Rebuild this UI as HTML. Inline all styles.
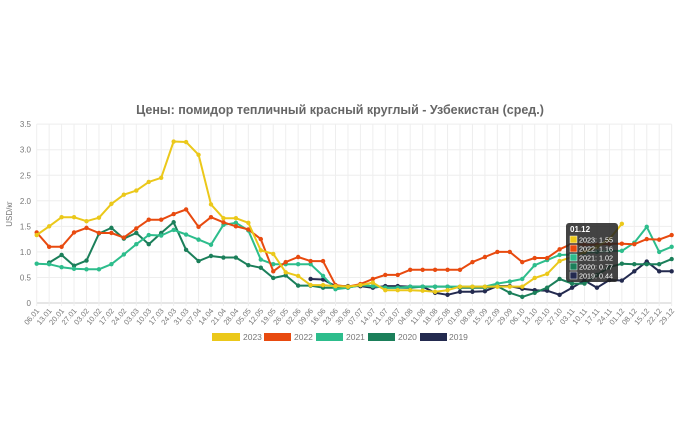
<!DOCTYPE html>
<html><head><meta charset="utf-8"><style>
html,body{margin:0;padding:0;background:#fff;width:680px;height:425px;overflow:hidden;font-family:"Liberation Sans",sans-serif}
</style></head><body>
<svg id="s" width="680" height="425" xmlns="http://www.w3.org/2000/svg" font-family="Liberation Sans, sans-serif">
<text x="340" y="114" text-anchor="middle" font-size="12.5" font-weight="bold" fill="#666">Цены: помидор тепличный красный круглый - Узбекистан (сред.)</text>
<text transform="translate(12,214) rotate(-90)" text-anchor="middle" font-size="8" fill="#777">USD/кг</text>
<g id="grid"></g><g id="series"></g>
<g font-size="8.5" fill="#777">
<rect x="212" y="333" width="28" height="8" fill="#ebc81a"/><text x="243" y="340">2023</text>
<rect x="264" y="333" width="27" height="8" fill="#e84a0f"/><text x="294" y="340">2022</text>
<rect x="316" y="333" width="27" height="8" fill="#2dbd8c"/><text x="346" y="340">2021</text>
<rect x="368" y="333" width="27" height="8" fill="#1b7f5a"/><text x="398" y="340">2020</text>
<rect x="420" y="333" width="27" height="8" fill="#232a4f"/><text x="449" y="340">2019</text>
</g>
<g id="tt">
<rect x="566" y="223" width="52" height="59" rx="3" fill="#222" fill-opacity="0.85"/>
<text x="570" y="232" font-size="8" font-weight="bold" fill="#fff">01.12</text>
<g font-size="7.2" fill="#fff">
<rect x="570" y="236" width="7" height="7" fill="#ebc81a" stroke="#fff" stroke-width="0.5"/><text x="579" y="242.5">2023: 1.55</text>
<rect x="570" y="245" width="7" height="7" fill="#e84a0f" stroke="#fff" stroke-width="0.5"/><text x="579" y="251.5">2022: 1.16</text>
<rect x="570" y="254" width="7" height="7" fill="#2dbd8c" stroke="#fff" stroke-width="0.5"/><text x="579" y="260.5">2021: 1.02</text>
<rect x="570" y="263" width="7" height="7" fill="#1b7f5a" stroke="#fff" stroke-width="0.5"/><text x="579" y="269.5">2020: 0.77</text>
<rect x="570" y="272" width="7" height="7" fill="#232a4f" stroke="#fff" stroke-width="0.5"/><text x="579" y="278.5">2019: 0.44</text>
</g></g>
</svg>
<script>
var NS="http://www.w3.org/2000/svg";
function el(t,a,p){var e=document.createElementNS(NS,t);for(var k in a)e.setAttribute(k,a[k]);p.appendChild(e);return e;}
var X0=36.7,DX=12.45,Y0=303,K=51.1;
function X(i){return X0+DX*i} function Y(v){return Y0-K*v}
var g=document.getElementById('grid'),sg=document.getElementById('series');
var dates="06.01 13.01 20.01 27.01 03.02 10.02 17.02 24.02 03.03 10.03 17.03 24.03 31.03 07.04 14.04 21.04 28.04 05.05 12.05 19.05 26.05 02.06 09.06 16.06 23.06 30.06 07.07 14.07 21.07 28.07 04.08 11.08 18.08 25.08 01.09 08.09 15.09 22.09 29.09 06.10 13.10 20.10 27.10 03.11 10.11 17.11 24.11 01.12 08.12 15.12 22.12 29.12".split(" ");
for(var v=0;v<=3.5001;v+=0.5){el('line',{x1:X0,x2:X(51),y1:Y(v),y2:Y(v),stroke:v==0?'#ccc':'#eee','stroke-width':1},g);
var t=el('text',{x:31,y:Y(v)+3,'text-anchor':'end','font-size':8,fill:'#777'},g);t.textContent=v==0?'0':v.toFixed(1);}
dates.forEach(function(d,i){el('line',{x1:X(i),x2:X(i),y1:Y(3.5),y2:Y0+3,stroke:'#eee'},g);
var t=el('text',{x:X(i)+3,y:Y0+8,'text-anchor':'end','font-size':7.5,fill:'#777',transform:'rotate(-50 '+(X(i)+3)+' '+(Y0+8)+')'},g);t.textContent=d;});
var N=null;
var S=[
["#232a4f",[N,N,N,N,N,N,N,N,N,N,N,N,N,N,N,N,N,N,N,N,N,N,0.47,0.46,0.33,0.33,0.33,0.3,0.33,0.33,0.32,0.32,0.2,0.16,0.22,0.22,0.23,0.33,0.33,0.28,0.25,0.24,0.16,0.3,0.44,0.3,0.45,0.44,0.62,0.81,0.62,0.62]],
["#1b7f5a",[N,0.79,0.94,0.73,0.83,1.36,1.47,1.26,1.37,1.15,1.37,1.58,1.04,0.82,0.92,0.89,0.89,0.74,0.69,0.49,0.54,0.34,0.34,0.3,0.3,0.3,0.35,0.33,0.3,0.3,0.3,0.32,0.32,0.32,0.3,0.3,0.3,0.33,0.2,0.12,0.2,0.3,0.47,0.38,0.38,0.55,0.7,0.77,0.76,0.76,0.76,0.86]],
["#2dbd8c",[0.77,0.76,0.7,0.67,0.66,0.66,0.76,0.95,1.15,1.33,1.32,1.43,1.34,1.24,1.14,1.53,1.57,1.42,0.85,0.76,0.76,0.76,0.76,0.53,0.27,0.3,0.35,0.33,0.3,0.3,0.32,0.32,0.32,0.32,0.32,0.32,0.32,0.38,0.42,0.47,0.74,0.84,0.94,0.95,0.98,1.0,1.02,1.02,1.18,1.49,1.0,1.1]],
["#e84a0f",[1.38,1.1,1.1,1.38,1.47,1.37,1.37,1.28,1.46,1.63,1.63,1.74,1.83,1.49,1.68,1.58,1.5,1.44,1.25,0.62,0.8,0.9,0.82,0.82,0.35,0.32,0.37,0.47,0.55,0.55,0.65,0.65,0.65,0.65,0.65,0.8,0.9,1.0,1.0,0.8,0.88,0.88,1.05,1.16,1.14,1.14,1.16,1.16,1.15,1.25,1.24,1.33]],
["#ebc81a",[1.33,1.5,1.68,1.68,1.6,1.67,1.94,2.12,2.2,2.37,2.45,3.16,3.15,2.9,1.93,1.66,1.66,1.57,1.03,0.96,0.6,0.53,0.35,0.35,0.33,0.32,0.35,0.4,0.25,0.25,0.25,0.24,0.22,0.25,0.32,0.32,0.32,0.32,0.32,0.32,0.49,0.57,0.82,0.9,1.0,1.1,1.25,1.55,N,N,N,N]]
];
S.forEach(function(s){var pts=[];s[1].forEach(function(v,i){if(v!==null)pts.push(X(i).toFixed(1)+','+Y(v).toFixed(1));});
el('polyline',{points:pts.join(' '),fill:'none',stroke:s[0],'stroke-width':2,'stroke-linejoin':'round'},sg);
s[1].forEach(function(v,i){if(v!==null)el('circle',{cx:X(i),cy:Y(v),r:2.2,fill:s[0]},sg);});});
</script>
</body></html>
